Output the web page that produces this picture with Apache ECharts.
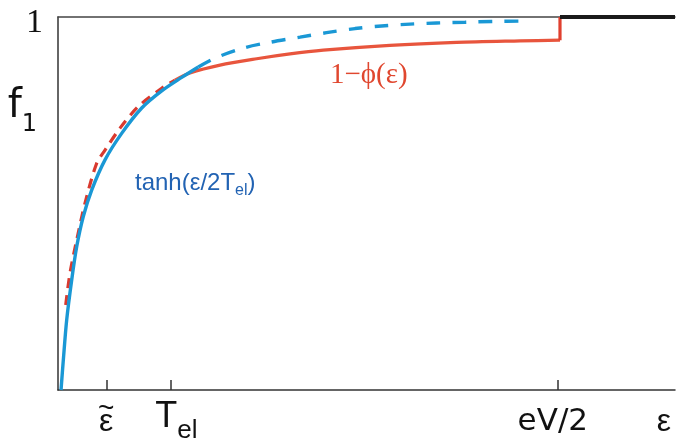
<!DOCTYPE html>
<html>
<head>
<meta charset="utf-8">
<script src="https://cdn.jsdelivr.net/npm/echarts@6/dist/echarts.min.js"></script>
<style>
  html, body { margin: 0; padding: 0; background: #fff; }
  #chart { width: 677px; height: 440px; }
</style>
</head>
<body>
<div id="chart"></div>
<script>
// curves, x in 0..100 (energy), y in 0..1 (f1)
const blueSolid = [[0.49, 0], [0.86, 0.08], [1.41, 0.188], [2.22, 0.295], [3.03, 0.384],
  [4.1, 0.465], [5.46, 0.536], [7.62, 0.617], [10.32, 0.688], [13.57, 0.756],
  [16.81, 0.802], [20.05, 0.838], [22.74, 0.866]];
const blueDash = [[22.74, 0.866], [25.61, 0.891], [30.31, 0.918], [34.6, 0.933], [39.22, 0.946],
  [43.52, 0.958], [48.14, 0.969], [52.43, 0.976], [57.05, 0.981], [61.35, 0.984],
  [65.96, 0.986], [70.26, 0.988], [76.0, 0.989]];
const redDash = [[1.25, 0.228], [1.94, 0.313], [3.03, 0.402], [4.38, 0.501], [6.27, 0.608],
  [7.62, 0.643], [10.05, 0.702], [13.01, 0.76], [16.81, 0.809], [18.96, 0.831]];
const redSolid = [[18.96, 0.831], [21.39, 0.85], [26.26, 0.871], [32.2, 0.888], [37.6, 0.901],
  [43.0, 0.911], [53.8, 0.924], [64.6, 0.932], [74.9, 0.936], [81.36, 0.938]];
const redStep = [[81.36, 0.938], [81.36, 1]];
const blackTop = [[81.36, 1], [100, 1]];

const xTicks = [7.94, 18.3, 81.0];
const xLabelPos = [7.8, 19.2, 80.2, 98.2];
const xLabelText = ['{t|~}\n{et|ε}', '{big|T}{sub|el}', '{mid|eV/2}', '{eps|ε}'];
const yLabelPos = [1, 0.761];
const yLabelText = ['{one|1}', '{f|f}{s1|1}'];

const chart = echarts.init(document.getElementById('chart'), null, { renderer: 'canvas' });

const sans = 'Liberation Sans, Arial, sans-serif';
const dejavu = 'DejaVu Sans, sans-serif';
const serif = 'Liberation Serif, DejaVu Serif, serif';

function line(data, color, width, dash, extra) {
  return Object.assign({
    type: 'line', data: data, showSymbol: false, symbol: 'none', smooth: 0.3,
    lineStyle: { color: color, width: width, type: dash || 'solid', cap: 'butt' },
    silent: true
  }, extra || {});
}

chart.setOption({
  animation: false,
  grid: { left: 58, right: 2, top: 17, bottom: 50, containLabel: false, outerBoundsMode: 'none' },
  xAxis: [{
    type: 'value', min: 0, max: 100,
    splitLine: { show: false },
    axisLine: { lineStyle: { color: '#333', width: 1.5 } },
    axisTick: { inside: true, length: 10, customValues: xTicks, lineStyle: { color: '#333', width: 1.5 } },
    axisLabel: {
      customValues: xLabelPos, margin: 10, color: '#111',
      formatter: v => xLabelText[xLabelPos.indexOf(v)] || '',
      rich: {
        t: { fontFamily: sans, fontSize: 28, lineHeight: 18, color: '#111' },
        et: { fontFamily: sans, fontSize: 32, lineHeight: 8, color: '#111' },
        eps: { fontFamily: sans, fontSize: 32, lineHeight: 44, color: '#111' },
        mid: { fontFamily: dejavu, fontSize: 31, lineHeight: 44, color: '#111' },
        big: { fontFamily: sans, fontSize: 36, lineHeight: 34, color: '#111' },
        sub: { fontFamily: sans, fontSize: 26, lineHeight: 8, padding: [27, 0, 0, 0], color: '#111' }
      }
    }
  }, {
    type: 'value', min: 0, max: 100, position: 'top',
    splitLine: { show: false },
    axisLine: { lineStyle: { color: '#444', width: 1.5 } },
    axisTick: { show: false }, axisLabel: { show: false }
  }],
  yAxis: {
    type: 'value', min: 0, max: 1,
    splitLine: { show: false },
    axisLine: { show: true, lineStyle: { color: '#333', width: 1.5 } },
    axisTick: { show: false },
    axisLabel: {
      customValues: yLabelPos, margin: 15, color: '#111',
      formatter: v => yLabelText[yLabelPos.indexOf(v)] || '',
      rich: {
        one: { fontFamily: serif, fontSize: 34, padding: [13, 0, 0, 0], color: '#111' },
        f: { fontFamily: dejavu, fontSize: 40, lineHeight: 44, color: '#111' },
        s1: { fontFamily: dejavu, fontSize: 24, lineHeight: 8, padding: [37, 6, 0, 0], color: '#111' }
      }
    }
  },
  graphic: [{
    type: 'text', left: 135, top: 167, silent: true,
    style: {
      text: '{a|tanh(ε/2T}{s|el}{a|)}',
      rich: {
        a: { fontFamily: sans, fontSize: 24, lineHeight: 26, fill: '#2263b3' },
        s: { fontFamily: sans, fontSize: 16, lineHeight: 10, padding: [16, 0, 0, 0], fill: '#2263b3' }
      }
    }
  }, {
    type: 'text', left: 330, top: 61, silent: true,
    style: {
      text: '1\u2212ϕ(ε)', fontFamily: serif, fontSize: 29, fill: '#e0472f'
    }
  }],
  series: [
    line(blueDash, '#1a98d5', 3.4, [14, 12]),
    line(redSolid, '#e8553d', 3.2),
    line(redDash, '#d93a2f', 3.2, [10, 7]),
    line(blueSolid, '#1a98d5', 3.4),
    line(redStep, '#e0402f', 3.2, 'solid', { smooth: false }),
    line(blackTop, '#1a1a1a', 4, 'solid', { smooth: false, clip: false })
  ]
});
</script>
</body>
</html>
